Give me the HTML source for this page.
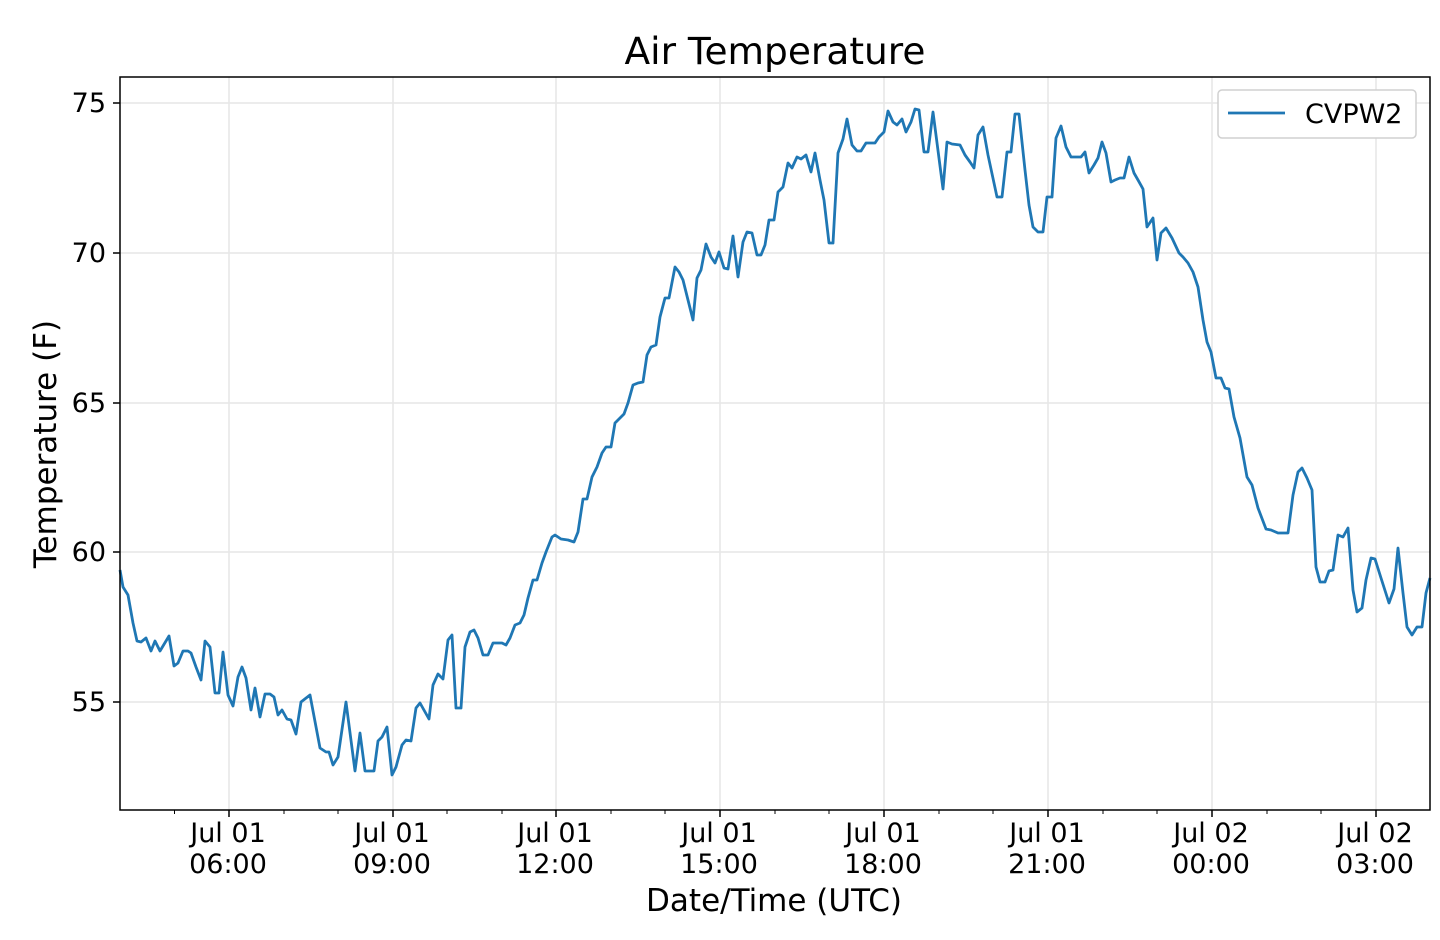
<!DOCTYPE html>
<html><head><meta charset="utf-8"><style>
html,body{margin:0;padding:0;background:#fff;}
svg{display:block;font-family:"DejaVu Sans","Liberation Sans",sans-serif;}
</style></head><body>
<svg width="1440" height="940" viewBox="0 0 1440 940" xmlns="http://www.w3.org/2000/svg">
<rect width="1440" height="940" fill="#fff"/>
<text x="775" y="64" font-size="37.5" text-anchor="middle" fill="#000">Air Temperature</text>
<g stroke="#e6e6e6" stroke-width="1.5">
<line x1="229" y1="77" x2="229" y2="810"/><line x1="393" y1="77" x2="393" y2="810"/>
<line x1="556" y1="77" x2="556" y2="810"/><line x1="720" y1="77" x2="720" y2="810"/>
<line x1="884" y1="77" x2="884" y2="810"/><line x1="1048" y1="77" x2="1048" y2="810"/>
<line x1="1212" y1="77" x2="1212" y2="810"/><line x1="1376" y1="77" x2="1376" y2="810"/>
<line x1="120" y1="103" x2="1430" y2="103"/><line x1="120" y1="253" x2="1430" y2="253"/>
<line x1="120" y1="403" x2="1430" y2="403"/><line x1="120" y1="552" x2="1430" y2="552"/>
<line x1="120" y1="702" x2="1430" y2="702"/>
</g>
<polyline fill="none" stroke="#1f77b4" stroke-width="2.8" stroke-linejoin="round" points="
120,570 123,587 128,595 133,623 137,641 141,642 146,638 151,651 155,641 160,651 169,636 174,666 178,663 183,651 188,651 191,653 196,667 201,680 205,641 210,647 215,693 219,693 223,652 228,695 233,706 238,677 242,667 246,678 251,710 255,688 260,717 265,694 270,694 274,697 278,715 282,710 287,719 291,720 296,734 301,702 310,695 320,748 326,752 329,752 333,765 338,757 346,702 355,771 360,733 365,771 374,771 378,741 382,737 387,727 392,775 396,767 402,745 406,740 411,741 416,708 420,703 429,719 433,685 438,674 443,679 448,640
452,635 456,708 461,708 465,647 470,632 474,630 478,638 483,655 488,655 493,643 502,643 506,645 510,638 515,625 520,623 524,615 528,598 533,580 537,580 542,563 546,552 552,537 555,535 561,539 568,540 574,542 578,532 583,499 587,499 592,477 597,467 602,453 606,447 611,447 615,423 620,418 624,414 628,403 633,385 638,383 643,382 647,355 651,347 656,345 660,317 665,298 669,298 675,267 679,272 683,280 688,300 693,320 697,278 701,270 706,244 711,257 715,263 719,252 724,268 728,269 733,236 738,277 743,242 747,232 752,233 757,255 761,255 765,245 769,220 774,220 778,192 783,187 788,163 792,168 797,157 801,159 806,155 811,172 815,153 820,180 824,200 829,243 833,243 838,153 843,139 847,119 852,145 857,151 861,151 866,143 875,143 879,137 884,132 888,111 893,122 897,125 902,119 906,132 911,122 915,109 919,110 924,152 928,152 933,112 943,189 947,142 952,144 960,145 965,155 970,162 974,168 978,135 983,127 988,155 997,197 1002,197 1007,152 1011,152 1015,114 1019,114 1025,170 1029,205 1033,227 1038,232 1043,232 1047,197 1052,197 1056,138 1061,126 1066,147 1071,157 1081,157 1085,152 1089,173 1094,165 1098,158 1102,142 1106,153 1111,182 1115,180 1120,178 1124,178 1129,157 1134,173 1138,180 1143,189 1147,227 1153,218 1157,260 1161,233 1166,228 1172,238 1179,253 1183,257 1188,263 1193,272 1198,287 1203,320 1207,342 1211,352 1216,378 1221,378 1225,388 1229,389 1234,417 1240,438 1247,477 1252,485 1258,508 1266,529 1271,530 1278,533 1288,533 1293,495 1298,472 1302,468 1307,478 1312,490 1316,567 1320,582 1325,582 1329,571 1333,570 1338,535 1343,537 1348,528 1353,590 1357,612 1362,608 1366,580 1371,558 1375,559 1381,578 1389,603 1394,589 1398,548 1403,593 1407,627 1412,635 1417,627 1422,627 1426,593 1430,578"/>
<rect x="120" y="77" width="1310" height="733" fill="none" stroke="#000" stroke-width="1.5"/>
<g stroke="#000" stroke-width="1.5">
<line x1="229" y1="810" x2="229" y2="817"/><line x1="393" y1="810" x2="393" y2="817"/>
<line x1="556" y1="810" x2="556" y2="817"/><line x1="720" y1="810" x2="720" y2="817"/>
<line x1="884" y1="810" x2="884" y2="817"/><line x1="1048" y1="810" x2="1048" y2="817"/>
<line x1="1212" y1="810" x2="1212" y2="817"/><line x1="1376" y1="810" x2="1376" y2="817"/>
<line x1="113" y1="103" x2="120" y2="103"/><line x1="113" y1="253" x2="120" y2="253"/>
<line x1="113" y1="403" x2="120" y2="403"/><line x1="113" y1="552" x2="120" y2="552"/>
<line x1="113" y1="702" x2="120" y2="702"/>
</g>
<g stroke="#000" stroke-width="1">
<line x1="174.5" y1="810" x2="174.5" y2="814"/><line x1="284" y1="810" x2="284" y2="814"/><line x1="338" y1="810" x2="338" y2="814"/>
<line x1="447" y1="810" x2="447" y2="814"/><line x1="502" y1="810" x2="502" y2="814"/>
<line x1="611" y1="810" x2="611" y2="814"/><line x1="665" y1="810" x2="665" y2="814"/>
<line x1="775" y1="810" x2="775" y2="814"/><line x1="829" y1="810" x2="829" y2="814"/>
<line x1="939" y1="810" x2="939" y2="814"/><line x1="993" y1="810" x2="993" y2="814"/>
<line x1="1103" y1="810" x2="1103" y2="814"/><line x1="1157" y1="810" x2="1157" y2="814"/>
<line x1="1267" y1="810" x2="1267" y2="814"/><line x1="1321" y1="810" x2="1321" y2="814"/>
</g>
<g font-size="27" fill="#000" text-anchor="end">
<text x="106" y="112">75</text><text x="106" y="262">70</text><text x="106" y="412">65</text>
<text x="106" y="561">60</text><text x="106" y="711">55</text>
</g>
<g font-size="27" fill="#000" text-anchor="middle">
<text x="228" y="842">Jul 01</text><text x="228" y="873">06:00</text>
<text x="392" y="842">Jul 01</text><text x="392" y="873">09:00</text>
<text x="555" y="842">Jul 01</text><text x="555" y="873">12:00</text>
<text x="719" y="842">Jul 01</text><text x="719" y="873">15:00</text>
<text x="883" y="842">Jul 01</text><text x="883" y="873">18:00</text>
<text x="1047" y="842">Jul 01</text><text x="1047" y="873">21:00</text>
<text x="1211" y="842">Jul 02</text><text x="1211" y="873">00:00</text>
<text x="1375" y="842">Jul 02</text><text x="1375" y="873">03:00</text>
</g>
<text x="774" y="911" font-size="31" text-anchor="middle" fill="#000">Date/Time (UTC)</text>
<text transform="translate(56,444) rotate(-90)" font-size="31" text-anchor="middle" fill="#000">Temperature (F)</text>
<rect x="1218" y="90" width="198" height="48" rx="4" fill="#fff" stroke="#d0d0d0" stroke-width="1.5"/>
<line x1="1228" y1="113" x2="1285" y2="113" stroke="#1f77b4" stroke-width="2.8"/>
<text x="1305" y="123" font-size="27" fill="#000">CVPW2</text>
</svg>
</body></html>
